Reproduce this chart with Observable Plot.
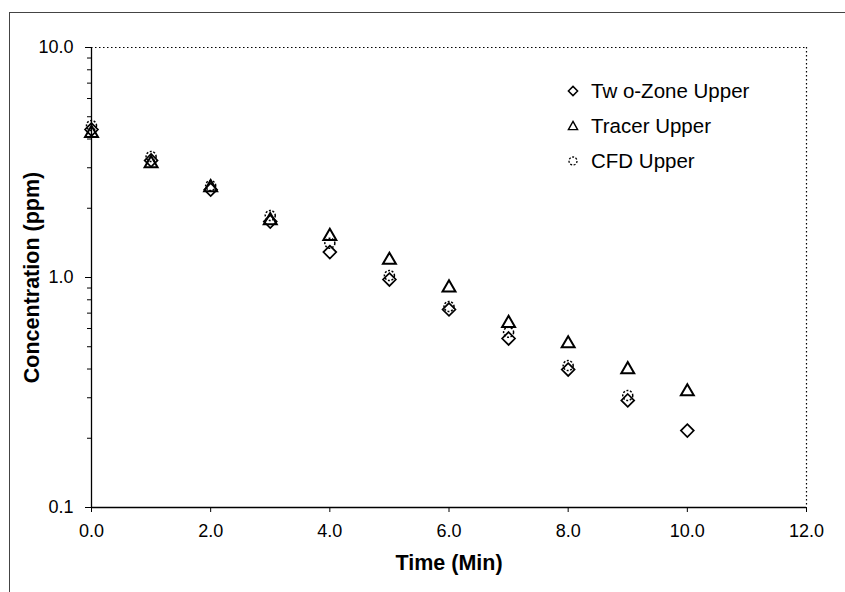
<!DOCTYPE html>
<html><head><meta charset="utf-8">
<script src="https://cdn.jsdelivr.net/npm/d3@7"></script>
<script src="https://cdn.jsdelivr.net/npm/@observablehq/plot@0.6"></script>
<style>
body{margin:0;background:#fff;}
#wrap{position:relative;width:845px;height:592px;overflow:hidden;font-family:"Liberation Sans",Arial,sans-serif;color:#000;}
#frame{position:absolute;left:9px;top:12px;width:900px;height:700px;border-left:1.5px solid #444;border-top:1.5px solid #444;pointer-events:none;}
#chart{position:absolute;left:0;top:0;}
#legend{position:absolute;left:566px;top:0;}
.row{position:absolute;left:0;white-space:nowrap;font-size:20.5px;display:flex;align-items:center;height:24px;}
.row svg{margin-right:11px;}
</style></head>
<body><div id="wrap"><div id="chart"></div><div id="frame"></div><div id="legend"></div></div>
<script>
const times = [0, 1, 2, 3, 4, 5, 6, 7, 8, 9, 10];
const twoZone = [4.4, 3.23, 2.41, 1.75, 1.29, 0.98, 0.726, 0.543, 0.398, 0.292, 0.216];
const tracer  = [4.24, 3.13, 2.46, 1.77, 1.51, 1.19, 0.902, 0.633, 0.516, 0.398, 0.319];
const cfd     = [4.58, 3.36, 2.51, 1.86, 1.41, 1.02, 0.748, 0.578, 0.414, 0.307, null];
const seriesNames = ["Two-Zone Upper", "Tracer Upper", "CFD Upper"];
const legendLabels = ["Tw o-Zone Upper", "Tracer Upper", "CFD Upper"];
const xTicks = [0, 2, 4, 6, 8, 10, 12];
const yTicks = [0.1, 1, 10];
const minorTicks = [0.2,0.3,0.4,0.5,0.6,0.7,0.8,0.9,2,3,4,5,6,7,8,9];
const xTitle = "Time (Min)";
const yTitle = "Concentration (ppm)";

const toRows = vals => times.map((t, i) => ({t, v: vals[i]})).filter(d => d.v != null);
const font = '"Liberation Sans", Arial, sans-serif';

const chart = Plot.plot({
  width: 845, height: 592,
  marginLeft: 91, marginRight: 39, marginTop: 47, marginBottom: 85,
  x: {domain: [0, 12]},
  y: {type: "log", domain: [0.1, 10]},
  style: {fontFamily: font, fontSize: "18px", color: "#000", background: "transparent"},
  marks: [
    Plot.ruleY([10], {stroke: "#000", strokeWidth: 1.2, strokeDasharray: "1.5,2.5"}),
    Plot.ruleX([12], {stroke: "#000", strokeWidth: 1.2, strokeDasharray: "1.5,2.5"}),
    Plot.axisX({ticks: xTicks, tickFormat: d => d.toFixed(1), tickSize: 5, tickPadding: 12, label: null, fontSize: 18}),
    Plot.axisY({ticks: yTicks, tickFormat: d => d.toFixed(1), tickSize: 6, tickPadding: 12, label: null, fontSize: 18}),
    Plot.axisY({ticks: minorTicks, tickFormat: () => "", tickSize: 4, label: null}),
    Plot.ruleX([0], {stroke: "#000", strokeWidth: 1.3}),
    Plot.ruleY([0.1], {stroke: "#000", strokeWidth: 1.3}),
    Plot.dot(toRows(twoZone), {x: "t", y: "v", symbol: "diamond2", r: 5.8, stroke: "#000", strokeWidth: 1.7, fill: "none"}),
    Plot.dot(toRows(tracer), {x: "t", y: "v", symbol: "triangle", r: 4.8, stroke: "#000", strokeWidth: 2, fill: "none"}),
    Plot.dot(toRows(cfd), {x: "t", y: "v", symbol: "circle", r: 5, stroke: "#000", strokeWidth: 1.5, strokeDasharray: "2,1.6", fill: "none"}),
    Plot.text([xTitle], {frameAnchor: "bottom", lineAnchor: "middle", dy: 56, fontWeight: "bold", fontSize: 21.5, fill: "#000"}),
    Plot.text([yTitle], {frameAnchor: "left", textAnchor: "middle", lineAnchor: "middle", dx: -59, rotate: -90, fontWeight: "bold", fontSize: 21.5, fill: "#000"})
  ]
});
document.getElementById("chart").appendChild(chart);

// legend (inside plot area, top right)
const symbolSvg = [
  '<svg width="14" height="14" viewBox="-7 -7 14 14"><path d="M0,-4.6L4.6,0L0,4.6L-4.6,0Z" fill="none" stroke="#000" stroke-width="1.5"/></svg>',
  '<svg width="14" height="14" viewBox="-7 -7 14 14"><path d="M0,-4.6L4.6,3.6L-4.6,3.6Z" fill="none" stroke="#000" stroke-width="1.4"/></svg>',
  '<svg width="14" height="14" viewBox="-7 -7 14 14"><circle r="4" fill="none" stroke="#000" stroke-width="1.3" stroke-dasharray="2,1.5"/></svg>'
];
const legendY = [91, 126, 161];
const legend = document.getElementById("legend");
seriesNames.forEach((name, i) => {
  const row = document.createElement("div");
  row.className = "row";
  row.style.top = (legendY[i] - 12) + "px";
  row.innerHTML = symbolSvg[i] + "<span>" + legendLabels[i] + "</span>";
  legend.appendChild(row);
});
</script>
</body></html>
